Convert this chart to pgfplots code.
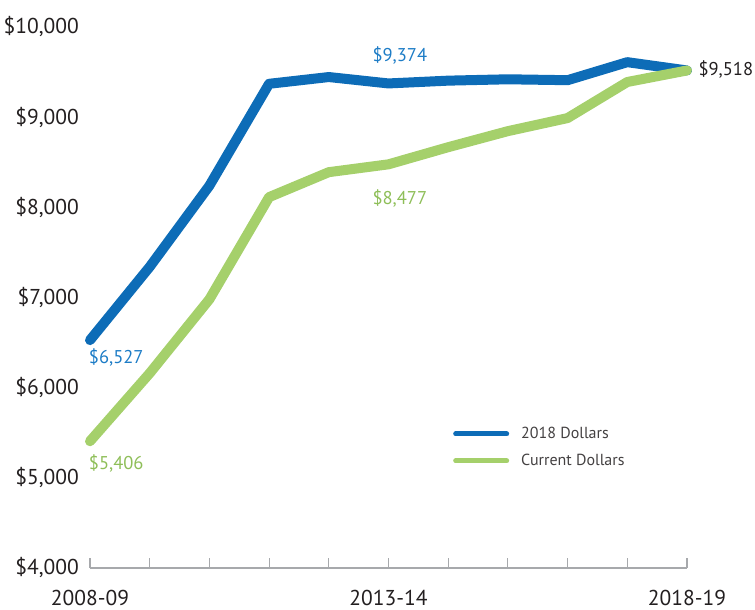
\documentclass[border=0pt]{standalone}
\usepackage{fontspec}
\setmainfont{PT Sans}
\usepackage{pgfplots}
\pgfplotsset{compat=1.18}
\definecolor{cblue}{HTML}{0D6CB7}
\definecolor{cgreen}{HTML}{A5D06B}
\definecolor{lblue}{HTML}{1D7CC6}
\definecolor{lgreen}{HTML}{8EBE58}
\definecolor{txt}{HTML}{231F20}
\definecolor{axgray}{HTML}{A7A9AC}
\begin{document}
\begin{tikzpicture}[x=1pt,y=1pt]
\path[use as bounding box] (0,0) rectangle (755,610);
\begin{axis}[
  at={(90pt,42pt)}, anchor=south west,
  scale only axis, width=597pt, height=541pt,
  xmin=0, xmax=10, ymin=4000, ymax=10000,
  scaled y ticks=false,
  axis x line=bottom, axis y line=left,
  x axis line style={-, draw=axgray, line width=1.3pt},
  y axis line style={draw=none},
  ytick={4000,5000,6000,7000,8000,9000,10000},
  yticklabels={{\$4,000},{\$5,000},{\$6,000},{\$7,000},{\$8,000},{\$9,000},{\$10,000}},
  xtick={0,1,2,3,4,5,6,7,8,9,10},
  xticklabels={2008-09,,,,,2013-14,,,,,2018-19},
  ytick style={draw=none},
  xtick style={draw=axgray, line width=1.1pt},
  tick align=inside, major tick length=10pt,
  ticklabel style={font=\fontsize{21.5}{24}\selectfont, text=txt},
  yticklabel style={anchor=east, inner sep=0pt, xshift=-11pt},
  xticklabel style={anchor=north, inner sep=0pt, yshift=-22pt},
  legend style={draw=none, fill=none, at={(axis cs:6.08,5560)}, anchor=north west,
    inner sep=0pt, row sep=14pt, column sep=12pt, font=\fontsize{16}{18}\selectfont, text=txt!85,
    nodes={inner sep=0pt}},
  legend cell align=left,
  legend image code/.code={\draw[#1, line width=5pt, line cap=round] (2.5pt,0pt) -- (53.5pt,0pt);},
  clip=false,
]
\addplot[cblue, line width=10pt, line cap=round, line join=round] coordinates {
 (0,6527) (1,7340) (2,8240) (3,9370) (4,9445) (5,9374) (6,9405) (7,9420) (8,9410) (9,9610) (10,9518)
};
\addlegendentry{2018 Dollars}
\addplot[cgreen, line width=10pt, line cap=round, line join=round] coordinates {
 (0,5406) (1,6160) (2,6980) (3,8113) (4,8390) (5,8477) (6,8667) (7,8845) (8,8990) (9,9390) (10,9518)
};
\addlegendentry{Current Dollars}
\node[text=lblue, font=\fontsize{18.5}{20}\selectfont] at (axis cs:5.19,9687) {\$9,374};
\node[text=lgreen, font=\fontsize{18.5}{20}\selectfont] at (axis cs:5.19,8102) {\$8,477};
\node[text=lblue, font=\fontsize{18.5}{20}\selectfont] at (axis cs:0.44,6339) {\$6,527};
\node[text=lgreen, font=\fontsize{18.5}{20}\selectfont] at (axis cs:0.44,5164) {\$5,406};
\node[text=txt, font=\fontsize{18.5}{20}\selectfont] at (axis cs:10.65,9532) {\$9,518};
\end{axis}
\end{tikzpicture}
\end{document}
